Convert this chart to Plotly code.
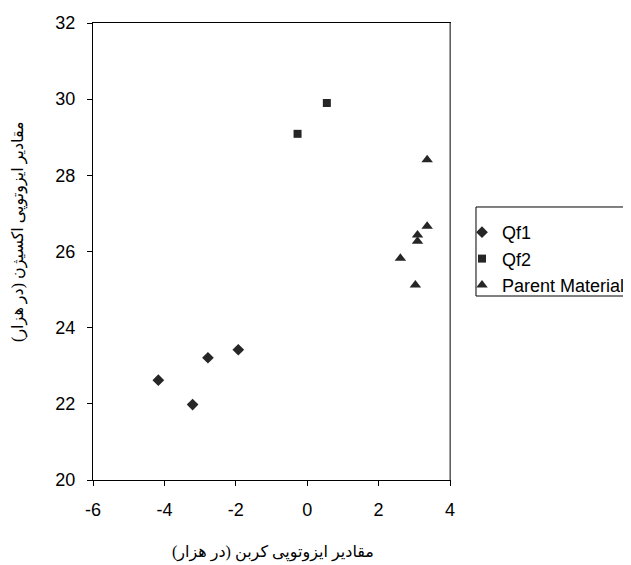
import plotly.graph_objects as go

qf1_x = [-4.17, -3.21, -2.78, -1.93]
qf1_y = [22.62, 21.98, 23.21, 23.42]
qf2_x = [-0.27, 0.55]
qf2_y = [29.09, 29.90]
pm_x = [3.36, 3.36, 3.09, 3.09, 2.61, 3.03]
pm_y = [28.41, 26.66, 26.43, 26.27, 25.82, 25.12]

x_ticks = [-6, -4, -2, 0, 2, 4]
y_ticks = [20, 22, 24, 26, 28, 30, 32]

x_title = "مقادیر ایزوتوپی کربن (در هزار)"
y_title = "مقادیر ایزوتوپی اکسیژن (در هزار)"

mc = "#262626"
fig = go.Figure()
fig.add_trace(go.Scatter(x=qf1_x, y=qf1_y, mode="markers", name="Qf1",
                         marker=dict(symbol="diamond", size=9, color=mc)))
fig.add_trace(go.Scatter(x=qf2_x, y=qf2_y, mode="markers", name="Qf2",
                         marker=dict(symbol="square", size=8, color=mc)))
fig.add_trace(go.Scatter(x=pm_x, y=pm_y, mode="markers", name="Parent Material",
                         marker=dict(symbol="triangle-up", size=10, color=mc)))

title_font = dict(family="Times New Roman, DejaVu Sans, serif", size=16, color="black")

fig.update_layout(
    width=631, height=565,
    margin=dict(l=85, r=189, t=15, b=93),
    paper_bgcolor="white", plot_bgcolor="white",
    font=dict(family="Liberation Sans, Arial, sans-serif", size=18, color="black"),
    showlegend=True,
    legend=dict(xref="container", yref="container", x=0.7195, y=0.6354,
                xanchor="left", yanchor="top",
                borderwidth=0, bgcolor="rgba(0,0,0,0)",
                font=dict(size=18), tracegroupgap=0, itemwidth=30),
    xaxis=dict(range=[-6, 4], tickvals=x_ticks, ticktext=[str(v) for v in x_ticks],
               showgrid=False, zeroline=False,
               showline=True, linecolor="black", linewidth=1, mirror=True,
               ticks="outside", ticklen=5, tickcolor="black", automargin=False,
               ticklabelstandoff=8),
    yaxis=dict(range=[20, 32], tickvals=y_ticks, ticktext=[str(v) for v in y_ticks],
               showgrid=False, zeroline=False,
               showline=True, linecolor="black", linewidth=1, mirror=True,
               ticks="outside", ticklen=5, tickcolor="black", automargin=False,
               ticklabelstandoff=8),
    shapes=[
        dict(type="line", xref="paper", yref="paper", x0=1, x1=1, y0=0, y1=1,
             line=dict(color="#808080", width=1.5)),
        dict(type="rect", xref="paper", yref="paper", x0=1.0728, x1=1.6,
             y0=0.4026, y1=0.5974, line=dict(color="black", width=1),
             fillcolor="rgba(0,0,0,0)", layer="below"),
    ],
    annotations=[
        dict(text=x_title, xref="paper", yref="paper", x=0.505, y=-0.159,
             xanchor="center", yanchor="middle", showarrow=False, font=title_font),
        dict(text=y_title, xref="paper", yref="paper", x=-0.207, y=0.543,
             xanchor="center", yanchor="middle", showarrow=False, font=title_font,
             textangle=-90),
    ],
)

fig.write_html("out.html")
